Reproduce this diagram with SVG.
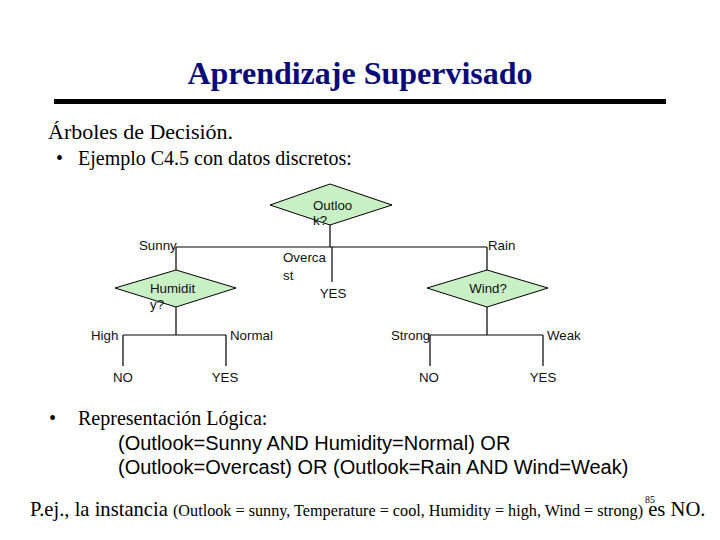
<svg xmlns="http://www.w3.org/2000/svg" width="720" height="540" viewBox="0 0 720 540">
<style>
.t{font-family:"Liberation Serif","Times New Roman",serif;fill:#000}
.a{font-family:"Liberation Sans",Arial,sans-serif;fill:#000}
.lbl{font-family:"Liberation Sans",Arial,sans-serif;font-size:13.3px;fill:#111}
.dia{fill:#c8f0c4;stroke:#000;stroke-width:1}
.ln{stroke:#000;stroke-width:1.2;fill:none}
</style>
<rect width="720" height="540" fill="#fff"/>
<text class="t" x="360" y="84" font-size="32" font-weight="bold" text-anchor="middle" style="fill:#0a0a78">Aprendizaje Supervisado</text>
<rect x="54" y="99" width="612" height="5" fill="#000"/>
<text class="t" x="48" y="139" font-size="22">Árboles de Decisión.</text>
<text class="t" x="56" y="165" font-size="20">•</text>
<text class="t" x="78" y="165" font-size="20">Ejemplo C4.5 con datos discretos:</text>

<g id="connectors">
<path class="ln" d="M330 225V247M176 247H487M332 247V282M176 247V270M487 247V270M176 307V335M123 335H226M123 335V366M226 335V366M487 307V335M430 335H543M430 335V366M543 335V366"/>
</g>

<g id="outlook">
<polygon class="dia" points="330,184 392,205 330,225 270,205"/>
<text class="lbl" x="313" y="210">Outloo</text>
<text class="lbl" x="313" y="225">k?</text>
</g>
<g id="humidity">
<polygon class="dia" points="176,270 236,288 176,307 115,288"/>
<text class="lbl" x="150" y="293">Humidit</text>
<text class="lbl" x="150" y="309">y?</text>
</g>
<g id="wind">
<polygon class="dia" points="487,270 548,288 487,307 427,288"/>
<text class="lbl" x="488" y="293" text-anchor="middle">Wind?</text>
</g>
<g id="leaf-yes-overcast"><text class="lbl" x="333" y="298" text-anchor="middle">YES</text></g>
<g id="leaf-no-high"><text class="lbl" x="123" y="382" text-anchor="middle">NO</text></g>
<g id="leaf-yes-normal"><text class="lbl" x="225" y="382" text-anchor="middle">YES</text></g>
<g id="leaf-no-strong"><text class="lbl" x="429" y="382" text-anchor="middle">NO</text></g>
<g id="leaf-yes-weak"><text class="lbl" x="543" y="382" text-anchor="middle">YES</text></g>

<g id="edge-labels">
<text class="lbl" x="139" y="250">Sunny</text>
<text class="lbl" x="283" y="262">Overca</text>
<text class="lbl" x="283" y="280">st</text>
<text class="lbl" x="488" y="250">Rain</text>
<text class="lbl" x="91" y="340">High</text>
<text class="lbl" x="230" y="340">Normal</text>
<text class="lbl" x="391" y="340">Strong</text>
<text class="lbl" x="547" y="340">Weak</text>
</g>

<text class="t" x="49" y="425" font-size="20">•</text>
<text class="t" x="78" y="425" font-size="20">Representación Lógica:</text>
<text class="a" x="118" y="450" font-size="20">(Outlook=Sunny AND Humidity=Normal) OR</text>
<text class="a" x="118" y="474" font-size="20">(Outlook=Overcast) OR (Outlook=Rain AND Wind=Weak)</text>

<text class="t" x="30" y="516" font-size="20.6">P.ej., la instancia <tspan font-size="16.2">(Outlook = sunny, Temperature = cool, Humidity = high, Wind = strong)</tspan> es NO.</text>
<text class="t" x="645" y="503" font-size="10">85</text>
</svg>
